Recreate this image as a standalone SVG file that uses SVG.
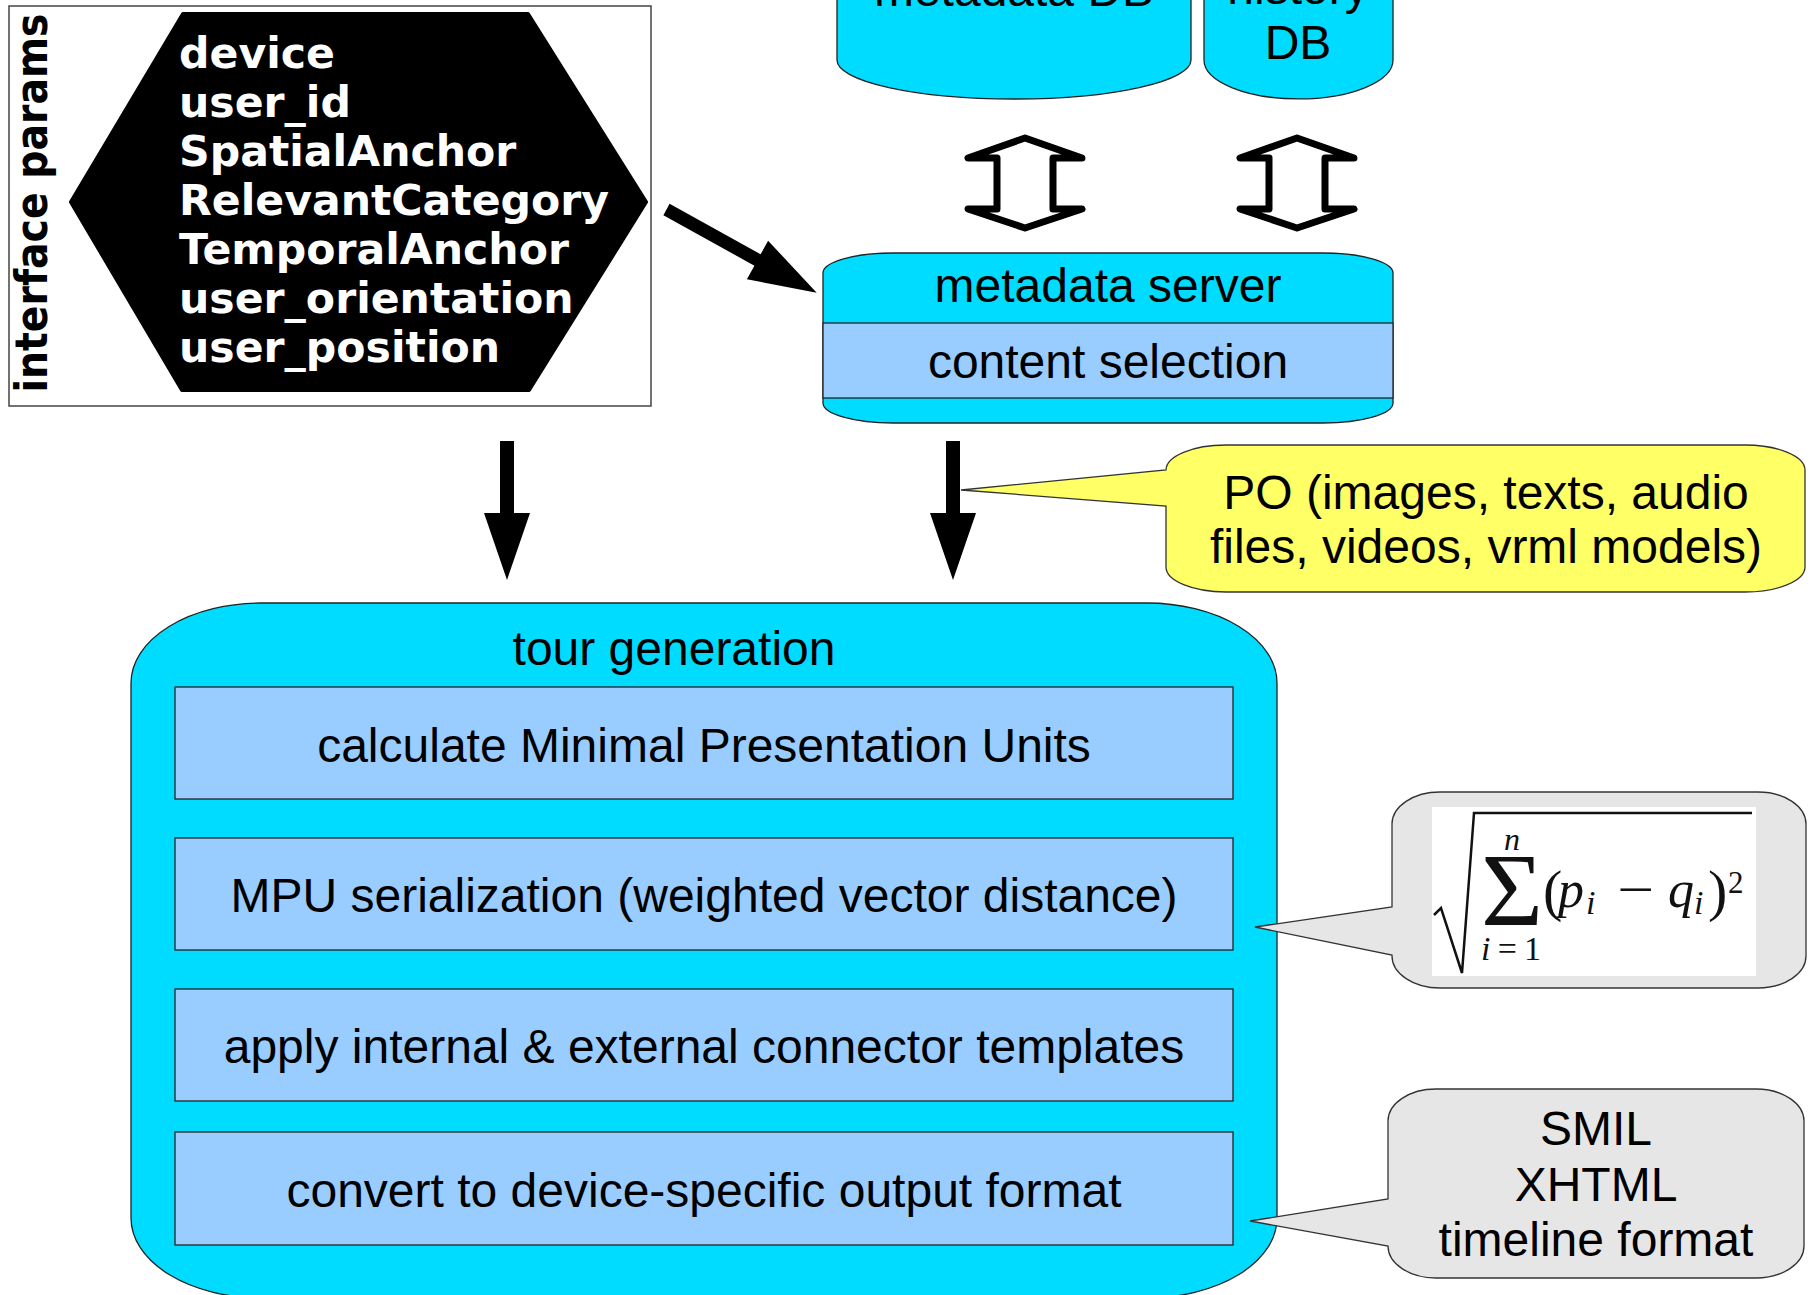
<svg xmlns="http://www.w3.org/2000/svg" width="1812" height="1295" viewBox="0 0 1812 1295">
<style>
.t{font-family:"Liberation Sans",Arial,sans-serif;font-size:48px;fill:#000;text-anchor:middle}
.hx{font-family:"DejaVu Sans",sans-serif;font-weight:bold;font-size:42.6px;fill:#fff}
.cyan{fill:#00dcff;stroke:#222;stroke-width:1.3}
.blue{fill:#99ccff;stroke:#222;stroke-width:1.3}
.gray{fill:#e6e6e6;stroke:#333;stroke-width:1.3}
.yel{fill:#ffff66;stroke:#333;stroke-width:1.3}
.dbl{fill:#fff;stroke:#000;stroke-width:7;stroke-linejoin:round;stroke-linecap:round}
.ser{font-family:"Liberation Serif","Times New Roman",serif;fill:#111}
.it{font-style:italic}
</style>
<rect width="1812" height="1295" fill="#fff"/>

<g id="interface-params">
<rect x="9" y="6" width="642" height="400" fill="#fff" stroke="#444" stroke-width="1.5"/>
<polygon points="183,14 528,14 646,202 529,390 182,390 71,202" fill="#000" stroke="#000" stroke-width="4" stroke-linejoin="round"/>
<text class="hx" x="179" y="68">device</text>
<text class="hx" x="179" y="117">user_id</text>
<text class="hx" x="179" y="166">SpatialAnchor</text>
<text class="hx" x="179" y="215">RelevantCategory</text>
<text class="hx" x="179" y="264">TemporalAnchor</text>
<text class="hx" x="179" y="313">user_orientation</text>
<text class="hx" x="179" y="362">user_position</text>
<text transform="translate(47,203) rotate(-90)" text-anchor="middle" font-family="DejaVu Sans, sans-serif" font-weight="bold" font-size="44" textLength="379" lengthAdjust="spacingAndGlyphs">interface params</text>
</g>

<g id="metadata-db">
<path class="cyan" d="M837,-5 V60 A177,39 0 0 0 1191,60 V-5 Z"/>
<text class="t" x="1014" y="6">metadata DB</text>
</g>

<g id="history-db">
<path class="cyan" d="M1204,-5 V60 A94.5,39 0 0 0 1393,60 V-5 Z"/>
<text class="t" x="1298" y="4">history</text>
<text class="t" x="1298" y="59">DB</text>
</g>

<g id="metadata-server">
<path class="cyan" d="M893,253 H1323 A70,20 0 0 1 1393,273 V403 A70,20 0 0 1 1323,423 H893 A70,20 0 0 1 823,403 V273 A70,20 0 0 1 893,253 Z"/>
<rect class="blue" x="823" y="323" width="570" height="75"/>
<text class="t" x="1108" y="302">metadata server</text>
<text class="t" x="1108" y="378">content selection</text>
</g>

<g id="tour-generation">
<path class="cyan" d="M261,603 H1147 A130,80 0 0 1 1277,683 V1218 A130,80 0 0 1 1147,1298 H261 A130,80 0 0 1 131,1218 V683 A130,80 0 0 1 261,603 Z"/>
<text class="t" x="674" y="665">tour generation</text>
<g id="mpu-calc">
<rect class="blue" x="175" y="687" width="1058" height="112"/>
<text class="t" x="704" y="762">calculate Minimal Presentation Units</text>
</g>
<g id="mpu-serialization">
<rect class="blue" x="175" y="838" width="1058" height="112"/>
<text class="t" x="704" y="912">MPU serialization (weighted vector distance)</text>
</g>
<g id="connector-templates">
<rect class="blue" x="175" y="989" width="1058" height="112"/>
<text class="t" x="704" y="1063">apply internal &amp; external connector templates</text>
</g>
<g id="convert-output">
<rect class="blue" x="175" y="1132" width="1058" height="113"/>
<text class="t" x="704" y="1207">convert to device-specific output format</text>
</g>
</g>

<g id="po-callout">
<path class="yel" d="M1226,445 H1745 A60,25 0 0 1 1805,470 V567 A60,25 0 0 1 1745,592 H1226 A60,25 0 0 1 1166,567 V506 L961,490 L1166,470 A60,25 0 0 1 1226,445 Z"/>
<text class="t" x="1486" y="509">PO (images, texts, audio</text>
<text class="t" x="1486" y="563">files, videos, vrml models)</text>
</g>

<g id="formula-callout">
<path class="gray" d="M1440,792 H1758 A48,32 0 0 1 1806,824 V956 A48,32 0 0 1 1758,988 H1440 A48,32 0 0 1 1392,956 V955 L1255,927 L1392,907 V824 A48,32 0 0 1 1440,792 Z"/>
<rect x="1432" y="807" width="324" height="169" fill="#fff"/>
<path d="M1434,915 L1441,908 L1462,973 L1474,813 H1752" fill="none" stroke="#111" stroke-width="2.5" stroke-linejoin="miter"/>
<text class="ser" x="1481" y="925" font-size="104" textLength="62" lengthAdjust="spacingAndGlyphs">Σ</text>
<text class="ser it" x="1512" y="850" font-size="32" text-anchor="middle">n</text>
<text class="ser" x="1481" y="960" font-size="34" textLength="60" lengthAdjust="spacing"><tspan class="it">i</tspan>=1</text>
<text class="ser" x="1543" y="910" font-size="58">(</text>
<text class="ser it" x="1558" y="907" font-size="52">p</text>
<text class="ser it" x="1586" y="914" font-size="34">i</text>
<text class="ser" x="1617" y="907" font-size="52" textLength="37" lengthAdjust="spacingAndGlyphs">−</text>
<text class="ser it" x="1668" y="907" font-size="52">q</text>
<text class="ser it" x="1694" y="914" font-size="34">i</text>
<text class="ser" x="1708" y="910" font-size="58">)</text>
<text class="ser" x="1728" y="893" font-size="31">2</text>
</g>

<g id="format-callout">
<path class="gray" d="M1436,1089 H1756 A48,32 0 0 1 1804,1121 V1246 A48,32 0 0 1 1756,1278 H1436 A48,32 0 0 1 1388,1246 L1250,1221 L1388,1199 V1121 A48,32 0 0 1 1436,1089 Z"/>
<text class="t" x="1596" y="1145">SMIL</text>
<text class="t" x="1596" y="1201">XHTML</text>
<text class="t" x="1596" y="1256">timeline format</text>
</g>

<g id="connectors">
<polygon points="669.6,203.8 760.6,254.3 768.1,240.7 816.7,292.7 746.9,279.3 754.4,265.7 663.4,215.2" fill="#000"/>
<path class="dbl" d="M1025,138 L968,158 L997,158 L997,209 L968,209 L1025,228 L1082,209 L1053,209 L1053,158 L1082,158 Z"/>
<path class="dbl" d="M1297,138 L1240,158 L1269,158 L1269,209 L1240,209 L1297,228 L1354,209 L1325,209 L1325,158 L1354,158 Z"/>
<polygon points="500,441 514,441 514,513 530,513 507,580 484,513 500,513" fill="#000"/>
<polygon points="946,441 960,441 960,513 976,513 953,580 930,513 946,513" fill="#000"/>
</g>
</svg>
